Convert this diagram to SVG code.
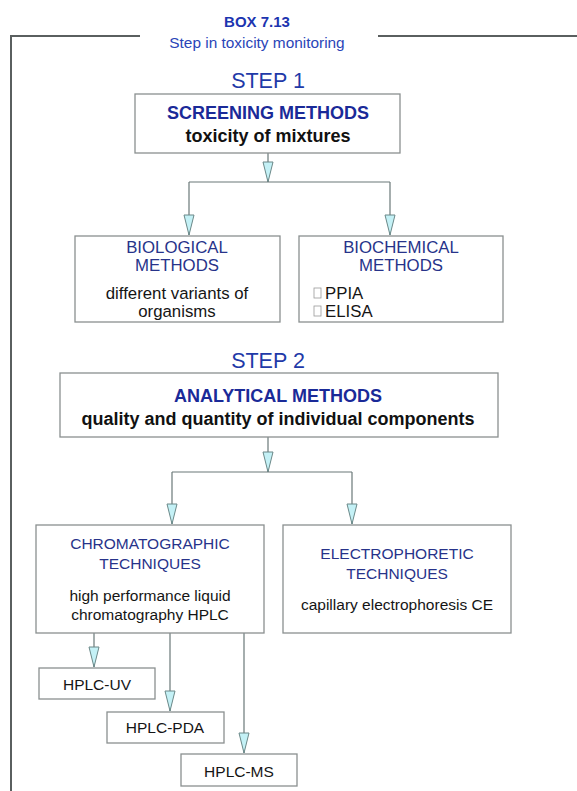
<svg xmlns="http://www.w3.org/2000/svg" width="577" height="791" viewBox="0 0 577 791">
<style>
text{font-family:"Liberation Sans",Arial,sans-serif;text-anchor:middle}
.box{fill:#fff;stroke:#8a9090;stroke-width:1.3}
.frame{fill:none;stroke:#5a5f5f;stroke-width:2}
.con{fill:none;stroke:#6a7878;stroke-width:1.2}
.title{font-size:15px;font-weight:bold;fill:#1c35b0}
.sub{font-size:15.4px;fill:#2a45b8}
.step{font-size:21.5px;fill:#1f3aa8}
.head{font-size:18px;font-weight:bold;fill:#1a2a98}
.headk{font-size:18px;font-weight:bold;fill:#111}
.cat{font-size:15.5px;fill:#27338a}
.cat1{font-size:16.8px;fill:#27338a}
.body{font-size:15.5px;fill:#151515}
.body1{font-size:16.8px;fill:#151515}
.glyph{fill:#fff;stroke:#999;stroke-width:0.8}
</style>
<defs>
<marker id="arr" viewBox="-1 -6 22 12" refX="20" refY="0" markerWidth="22" markerHeight="12" markerUnits="userSpaceOnUse" orient="auto">
<path d="M0,-5 L20,0 L0,5 Z" fill="#c4f1f6" stroke="#6a8888" stroke-width="1"/>
</marker>
</defs>
<rect width="577" height="791" fill="#fff"/>
<g id="frame">
<path class="frame" d="M140,36 H11 V791"/>
<path class="frame" d="M378,36 H577"/>
<text class="title" x="257" y="27">BOX 7.13</text>
<text class="sub" x="257" y="48">Step in toxicity monitoring</text>
<text class="step" x="268" y="88">STEP 1</text>
<text class="step" x="268" y="368">STEP 2</text>
</g>
<g id="connectors">
<path class="con" d="M268,153 V182" marker-end="url(#arr)"/>
<path class="con" d="M189,182 H390"/>
<path class="con" d="M189,182 V235" marker-end="url(#arr)"/>
<path class="con" d="M390,182 V235" marker-end="url(#arr)"/>
<path class="con" d="M268,437 V472" marker-end="url(#arr)"/>
<path class="con" d="M172,472 H352"/>
<path class="con" d="M172,472 V524" marker-end="url(#arr)"/>
<path class="con" d="M352,472 V524" marker-end="url(#arr)"/>
<path class="con" d="M94,633 V667" marker-end="url(#arr)"/>
<path class="con" d="M170,633 V711" marker-end="url(#arr)"/>
<path class="con" d="M244,633 V753" marker-end="url(#arr)"/>
</g>
<g id="screening">
<rect class="box" x="135" y="94" width="265" height="59"/>
<text class="head" x="268" y="119">SCREENING METHODS</text>
<text class="headk" x="268" y="142">toxicity of mixtures</text>
</g>
<g id="biological">
<rect class="box" x="75" y="236" width="205" height="86"/>
<text class="cat1" x="177" y="253">BIOLOGICAL</text>
<text class="cat1" x="177" y="271">METHODS</text>
<text class="body1" x="177" y="299">different variants of</text>
<text class="body1" x="177" y="317">organisms</text>
</g>
<g id="biochemical">
<rect class="box" x="299" y="236" width="204" height="86"/>
<text class="cat1" x="401" y="253">BIOCHEMICAL</text>
<text class="cat1" x="401" y="271">METHODS</text>
<rect class="glyph" x="314" y="288" width="7" height="10"/>
<text class="body1" x="325" y="299" style="text-anchor:start">PPIA</text>
<rect class="glyph" x="314" y="306" width="7" height="10"/>
<text class="body1" x="325" y="317" style="text-anchor:start">ELISA</text>
</g>
<g id="analytical">
<rect class="box" x="60" y="373" width="438" height="64"/>
<text class="head" x="278" y="402">ANALYTICAL METHODS</text>
<text class="headk" x="278" y="425">quality and quantity of individual components</text>
</g>
<g id="chromatographic">
<rect class="box" x="36" y="525" width="228" height="108"/>
<text class="cat" x="150" y="549">CHROMATOGRAPHIC</text>
<text class="cat" x="150" y="569">TECHNIQUES</text>
<text class="body" x="150" y="601">high performance liquid</text>
<text class="body" x="150" y="620">chromatography HPLC</text>
</g>
<g id="electrophoretic">
<rect class="box" x="283" y="525" width="228" height="108"/>
<text class="cat" x="397" y="559">ELECTROPHORETIC</text>
<text class="cat" x="397" y="579">TECHNIQUES</text>
<text class="body" x="397" y="610">capillary electrophoresis CE</text>
</g>
<g id="hplc-uv">
<rect class="box" x="39" y="668" width="116" height="31"/>
<text class="body" x="97" y="690">HPLC-UV</text>
</g>
<g id="hplc-pda">
<rect class="box" x="107" y="712" width="117" height="31"/>
<text class="body" x="165" y="733">HPLC-PDA</text>
</g>
<g id="hplc-ms">
<rect class="box" x="181" y="754" width="116" height="32"/>
<text class="body" x="239" y="777">HPLC-MS</text>
</g>
</svg>
